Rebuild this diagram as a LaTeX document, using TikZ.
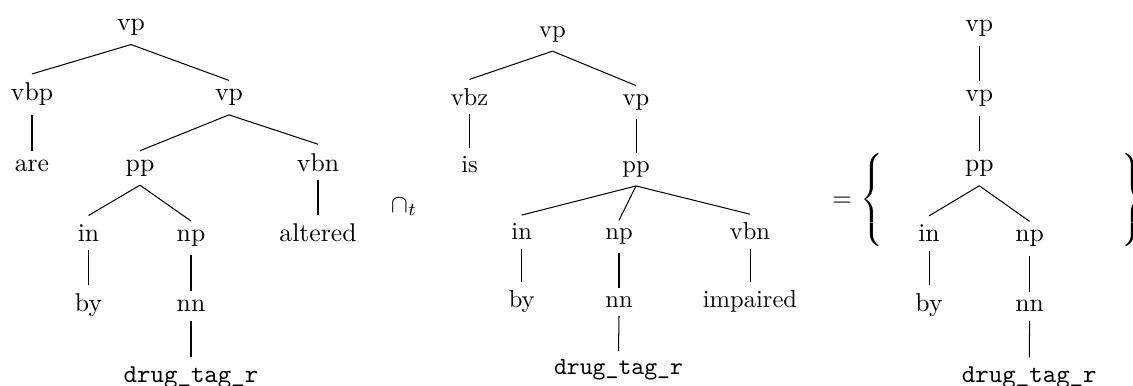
\documentclass[tikz,border=0pt]{standalone}
\tikzset{
  tn/.style={anchor=base},
  tnb/.style={anchor=base, font=\fontsize{9.57pt}{11.5pt}\selectfont, inner sep=3.19pt},
  edge/.style={line width=0.4pt},
  sym/.style={inner sep=0pt, anchor=base},
  brace/.style={inner sep=0pt},
}
\newcommand{\drugtag}{\texttt{drug\_tag\_r}}
\begin{document}
\begin{tikzpicture}[x=0.38986pt,y=-0.38986pt]
\useasboundingbox (0,0) rectangle (1133,385);
% ---------- tree 1 ----------
\node[tn] (a1) at (131,30.5) {vp};
\node[tn] (a2) at (32,100.8) {vbp};
\node[tn] (a3) at (229,100.8) {vp};
\node[tn] (a4) at (32,171.1) {are};
\node[tn] (a5) at (140,171.1) {pp};
\node[tn] (a6) at (318,171.1) {vbn};
\node[tn] (a7) at (88.5,241.4) {in};
\node[tn] (a8) at (191,241.4) {np};
\node[tn] (a9) at (318,241.4) {altered};
\node[tn] (a10) at (88.5,311.7) {by};
\node[tn] (a11) at (191,311.7) {nn};
\node[tn] (a12) at (191,382) {\drugtag};
\draw[edge] (a1.south) -- (a2.north);
\draw[edge] (a1.south) -- (a3.north);
\draw[edge] (a2.south) -- (a4.north);
\draw[edge] (a3.south) -- (a5.north);
\draw[edge] (a3.south) -- (a6.north);
\draw[edge] (a5.south) -- (a7.north);
\draw[edge] (a5.south) -- (a8.north);
\draw[edge] (a6.south) -- (a9.north);
\draw[edge] (a7.south) -- (a10.north);
\draw[edge] (a8.south) -- (a11.north);
\draw[edge] (a11.south) -- (a12.north);
% ---------- cap ----------
\node[sym] (cap) at (404,212) {$\cap_t$};
% ---------- tree 2 ----------
\node[tnb] (b1) at (552.5,37.7) {vp};
\node[tnb] (b2) at (469.5,105.1) {vbz};
\node[tnb] (b3) at (636,105.1) {vp};
\node[tnb] (b4) at (469.5,172.5) {is};
\node[tnb] (b5) at (636,172.5) {pp};
\node[tnb] (b6) at (521.7,239.9) {in};
\node[tnb] (b7) at (619,239.9) {np};
\node[tnb] (b8) at (750,239.9) {vbn};
\node[tnb] (b9) at (521.7,307.3) {by};
\node[tnb] (b10) at (619,307.3) {nn};
\node[tnb] (b11) at (750,307.3) {impaired};
\node[tnb] (b12) at (618.5,374.7) {\drugtag};
\draw[edge] (b1.south) -- (b2.north);
\draw[edge] (b1.south) -- (b3.north);
\draw[edge] (b2.south) -- (b4.north);
\draw[edge] (b3.south) -- (b5.north);
\draw[edge] (b5.south) -- (b6.north);
\draw[edge] (b5.south) -- (b7.north);
\draw[edge] (b5.south) -- (b8.north);
\draw[edge] (b6.south) -- (b9.north);
\draw[edge] (b7.south) -- (b10.north);
\draw[edge] (b8.south) -- (b11.north);
\draw[edge] (b10.south) -- (b12.north);
% ---------- equals and braces ----------
\node[sym] (eq) at (842,206.4) {$=$};
\node[brace] (lb) at (873,200) {$\left\{\vcenter{\hbox{\rule{0pt}{34pt}}}\right.$};
\node[brace] (rb) at (1131.5,200) {$\left.\vcenter{\hbox{\rule{0pt}{34pt}}}\right\}$};
% ---------- tree 3 ----------
\node[tn] (c1) at (979.3,31.5) {vp};
\node[tn] (c2) at (979.3,101.6) {vp};
\node[tn] (c3) at (979.3,171.7) {pp};
\node[tn] (c4) at (929,241.8) {in};
\node[tn] (c5) at (1029.6,241.8) {np};
\node[tn] (c6) at (929,311.9) {by};
\node[tn] (c7) at (1029.6,311.9) {nn};
\node[tn] (c8) at (1029.3,382) {\drugtag};
\draw[edge] (c1.south) -- (c2.north);
\draw[edge] (c2.south) -- (c3.north);
\draw[edge] (c3.south) -- (c4.north);
\draw[edge] (c3.south) -- (c5.north);
\draw[edge] (c4.south) -- (c6.north);
\draw[edge] (c5.south) -- (c7.north);
\draw[edge] (c7.south) -- (c8.north);
\end{tikzpicture}
\end{document}
